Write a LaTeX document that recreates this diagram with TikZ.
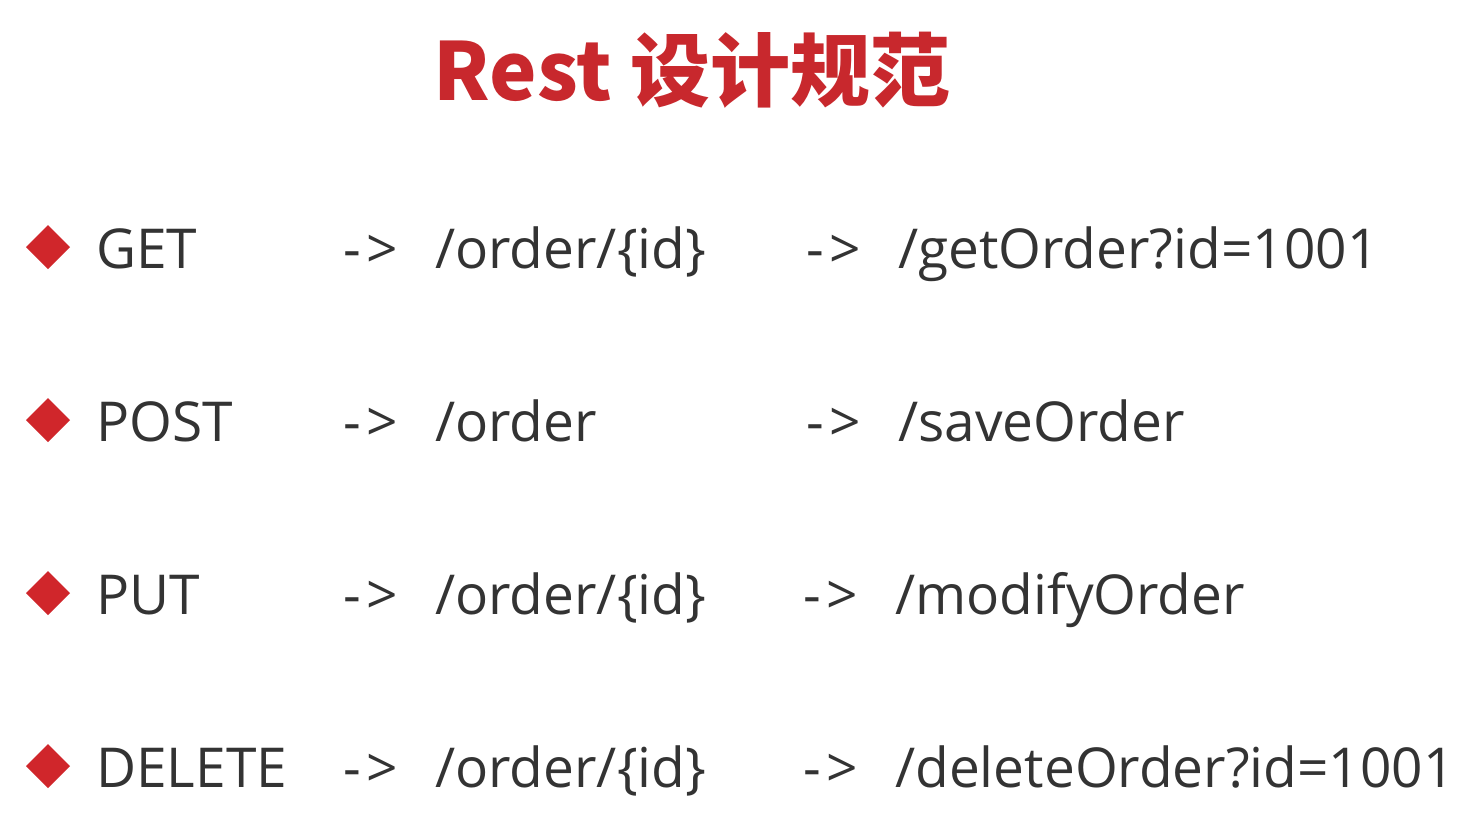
\documentclass[tikz,border=0pt]{standalone}
\usepackage{fontspec}
\setmainfont{Open Sans}
\newfontfamily\cjk{Noto Sans CJK SC}
\definecolor{titred}{HTML}{C8282D}
\definecolor{txt}{HTML}{333333}
\definecolor{dia}{HTML}{D0262B}
\begin{document}
\begin{tikzpicture}[x=1pt,y=-1pt,
  lbl/.style={anchor=base west,inner sep=0pt,text=txt,font=\fontsize{55}{58}\selectfont},
  bullet/.style={fill=dia,draw=none}]
\useasboundingbox (0,0) rectangle (1468,816);
\fill[white] (0,0) rectangle (1468,816);
\node[anchor=base,inner sep=0pt,text=titred,font=\cjk\bfseries\fontsize{80}{82}\selectfont] (title) at (692,100) {Rest 设计规范};
\foreach \y/\m/\p/\r/\rx [count=\i] in {268/GET/{/order/\{id\}}/{/getOrder?id=1001}/898,
  441/POST/{/order}/{/saveOrder}/898,
  614/PUT/{/order/\{id\}}/{/modifyOrder}/895,
  787/DELETE/{/order/\{id\}}/{/deleteOrder?id=1001}/895}{
  \fill[bullet] (48,\y-43) -- (70,\y-21) -- (48,\y+1) -- (26,\y-21) -- cycle;
  \node[lbl] (m\i) at (96,\y) {\m};
  \node[lbl] (a\i) at (343,\y) {-\kern6pt>};
  \node[lbl] (p\i) at (435,\y) {\p};
  \node[lbl] (b\i) at (\rx-92,\y) {-\kern6pt>};
  \node[lbl] (r\i) at (\rx,\y) {\r};
}
\end{tikzpicture}
\end{document}
